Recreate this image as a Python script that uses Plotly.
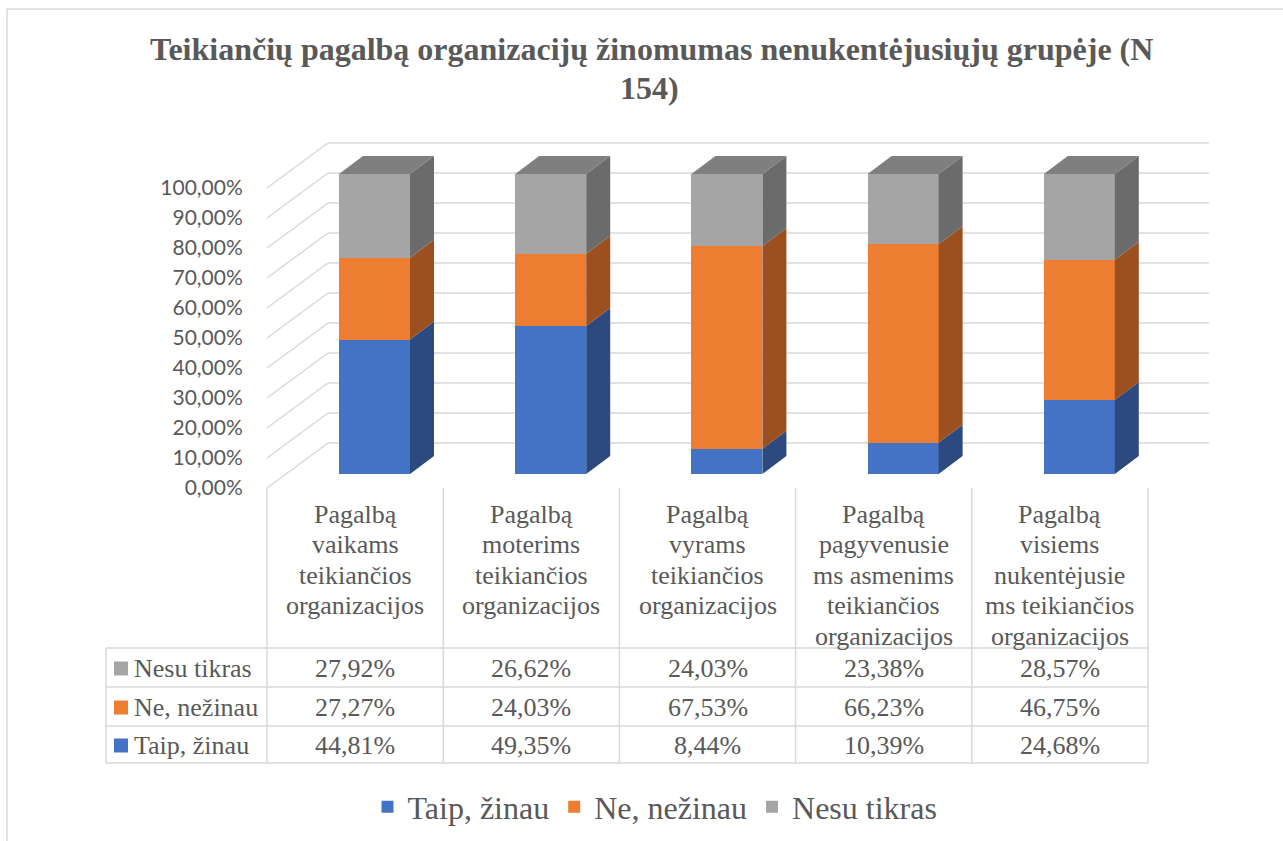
import plotly.graph_objects as go

# ---------------- data ----------------
category_lines = [
    ["Pagalbą", "vaikams", "teikiančios", "organizacijos"],
    ["Pagalbą", "moterims", "teikiančios", "organizacijos"],
    ["Pagalbą", "vyrams", "teikiančios", "organizacijos"],
    ["Pagalbą", "pagyvenusie", "ms asmenims", "teikiančios", "organizacijos"],
    ["Pagalbą", "visiems", "nukentėjusie", "ms teikiančios", "organizacijos"],
]
series_names = ["Taip, žinau", "Ne, nežinau", "Nesu tikras"]
taip = [44.81, 49.35, 8.44, 10.39, 24.68]
ne = [27.27, 24.03, 67.53, 66.23, 46.75]
nesu = [27.92, 26.62, 24.03, 23.38, 28.57]
y_ticks = [0, 10, 20, 30, 40, 50, 60, 70, 80, 90, 100]
title_lines = ["Teikiančių pagalbą organizacijų žinomumas nenukentėjusiųjų grupėje (N", "154)"]

# ---------------- styles ----------------
front_colors = ["#4472C4", "#ED7D31", "#A5A5A5"]
side_colors = ["#2C4A7F", "#9C4F1F", "#6B6B6B"]
top_colors = ["#35599A", "#BA6227", "#7F7F7F"]
TXT = "#595959"
GRID = "#D9D9D9"
SERIF = "Liberation Serif, Times New Roman, serif"
SANS = "Lato, Calibri, sans-serif"

W, H = 1283, 841
X0_PX, COLW = 267.0, 176.2     # category axis start (px), column width (px)
Y0_PX, PPU = 488.0, 3.0        # 0% front edge (px), pixels per percent


def dx(px):
    return (px - X0_PX) / COLW


def dy(py):
    return (Y0_PX - py) / PPU


def pxx(px):
    return px / W


def pxy(py):
    return 1 - py / H


n = len(taip)
series = [taip, ne, nesu]

# 3D geometry (in data units)
FLOOR_DX, FLOOR_DY = 61 / COLW, 45 / PPU      # left wall / floor depth
BAR_Y_OFF = 14 / PPU                           # bar front plane offset
BAR_L, BAR_R = 72 / COLW, 143 / COLW           # bar front face within a column
BAR_DX, BAR_DY = 24 / COLW, 18 / PPU           # bar depth

fig = go.Figure()

# front faces (bars)
for s, (name, vals) in enumerate(zip(series_names, series)):
    bases = [BAR_Y_OFF + sum(series[k][i] for k in range(s)) for i in range(n)]
    fig.add_trace(go.Bar(
        x=[i + (BAR_L + BAR_R) / 2 for i in range(n)],
        y=vals, base=bases, width=BAR_R - BAR_L,
        name=name, marker=dict(color=front_colors[s], line=dict(width=0)),
        hoverinfo="skip",
    ))

# side faces
for s, vals in enumerate(series):
    xs, ys = [], []
    for i in range(n):
        v0 = BAR_Y_OFF + sum(series[k][i] for k in range(s))
        v1 = v0 + vals[i]
        xr = i + BAR_R
        xs += [xr, xr + BAR_DX, xr + BAR_DX, xr, xr, None]
        ys += [v0, v0 + BAR_DY, v1 + BAR_DY, v1, v0, None]
    fig.add_trace(go.Scatter(x=xs, y=ys, mode="lines", fill="toself",
                             fillcolor=side_colors[s], line=dict(width=0, color=side_colors[s]),
                             showlegend=False, hoverinfo="skip"))

# top face of topmost segment
xs, ys = [], []
for i in range(n):
    t = BAR_Y_OFF + sum(series[k][i] for k in range(len(series)))
    xl, xr = i + BAR_L, i + BAR_R
    xs += [xl, xl + BAR_DX, xr + BAR_DX, xr, xl, None]
    ys += [t, t + BAR_DY, t + BAR_DY, t, t, None]
fig.add_trace(go.Scatter(x=xs, y=ys, mode="lines", fill="toself",
                         fillcolor=top_colors[2], line=dict(width=0, color=top_colors[2]),
                         showlegend=False, hoverinfo="skip"))

shapes = []
# gridlines: left wall diagonals + back wall
for v in y_ticks:
    shapes.append(dict(type="line", xref="x", yref="y", x0=0, y0=v,
                       x1=FLOOR_DX, y1=v + FLOOR_DY, line=dict(color=GRID, width=1.5), layer="below"))
    shapes.append(dict(type="line", xref="x", yref="y", x0=FLOOR_DX, y0=v + FLOOR_DY,
                       x1=n + FLOOR_DX, y1=v + FLOOR_DY, line=dict(color=GRID, width=1.5), layer="below"))

# data table grid
row_px = [648, 687, 726, 763]
for r in row_px:
    shapes.append(dict(type="line", xref="x", yref="y", x0=dx(106), y0=dy(r), x1=n, y1=dy(r),
                       line=dict(color=GRID, width=1.5), layer="below"))
shapes.append(dict(type="line", xref="x", yref="y", x0=dx(106), y0=dy(row_px[0]), x1=dx(106),
                   y1=dy(row_px[-1]), line=dict(color=GRID, width=1.5), layer="below"))
for i in range(n + 1):
    shapes.append(dict(type="line", xref="x", yref="y", x0=i, y0=0, x1=i, y1=dy(row_px[-1]),
                       line=dict(color=GRID, width=1.5), layer="below"))

# outer chart border (top & left visible)
shapes.append(dict(type="line", xref="paper", yref="paper", x0=pxx(7), y0=pxy(9), x1=1, y1=pxy(9),
                   line=dict(color=GRID, width=1.5)))
shapes.append(dict(type="line", xref="paper", yref="paper", x0=pxx(7), y0=pxy(9), x1=pxx(7), y1=0,
                   line=dict(color=GRID, width=1.5)))

annotations = []
# title
for k, (line, cy, cx) in enumerate(zip(title_lines, [49, 88], [651, 649])):
    annotations.append(dict(text=f"<b>{line}</b>", xref="paper", yref="paper", x=pxx(cx), y=pxy(cy),
                            xanchor="center", yanchor="middle", showarrow=False,
                            font=dict(family=SERIF, size=32, color=TXT)))

# category header in data table
for i, lines in enumerate(category_lines):
    for k, line in enumerate(lines):
        annotations.append(dict(text=line, xref="x", yref="y", x=i + 0.5, y=dy(514 + 30.5 * k),
                                xanchor="center", yanchor="middle", showarrow=False,
                                font=dict(family=SERIF, size=26, color=TXT)))

# table rows: Nesu tikras, Ne nežinau, Taip žinau (top to bottom)
row_order = [2, 1, 0]
for r, s in enumerate(row_order):
    cy = (row_px[r] + row_px[r + 1]) / 2 + 1
    shapes.append(dict(type="rect", xref="x", yref="y", x0=dx(114), x1=dx(128),
                       y0=dy(cy - 7), y1=dy(cy + 7), fillcolor=front_colors[s], line=dict(width=0)))
    annotations.append(dict(text=series_names[s], xref="x", yref="y", x=dx(132), y=dy(cy),
                            xanchor="left", yanchor="middle", showarrow=False,
                            font=dict(family=SERIF, size=26, color=TXT)))
    for i in range(n):
        txt = f"{series[s][i]:.2f}".replace(".", ",") + "%"
        annotations.append(dict(text=txt, xref="x", yref="y", x=i + 0.5, y=dy(cy),
                                xanchor="center", yanchor="middle", showarrow=False,
                                font=dict(family=SERIF, size=26, color=TXT)))

fig.update_layout(
    width=W, height=H,
    margin=dict(l=0, r=0, t=0, b=0),
    paper_bgcolor="white", plot_bgcolor="white",
    barmode="overlay", bargap=0,
    showlegend=True,
    legend=dict(orientation="h", x=pxx(655), y=pxy(807), xanchor="center", yanchor="middle",
                font=dict(family=SERIF, size=32, color=TXT), traceorder="normal",
                bgcolor="rgba(0,0,0,0)"),
    xaxis=dict(range=[dx(0), dx(W)], visible=False, fixedrange=True),
    yaxis=dict(range=[dy(H), dy(0)], anchor="free", position=pxx(X0_PX), side="left",
               tickvals=y_ticks,
               ticktext=[f"{v:.2f}".replace(".", ",") + "%" for v in y_ticks],
               ticks="outside", ticklen=20, tickcolor="rgba(0,0,0,0)",
               showgrid=False, zeroline=False, showline=False,
               tickfont=dict(family=SANS, size=21, color=TXT), fixedrange=True),
    shapes=shapes, annotations=annotations,
    hovermode=False,
)

fig.write_html("out.html", config={"displayModeBar": False},
               post_script="document.body.style.margin='0';")
